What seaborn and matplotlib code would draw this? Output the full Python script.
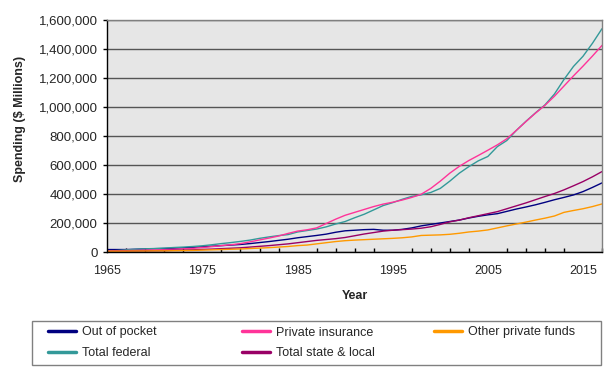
import numpy as np
import pandas as pd
import matplotlib
matplotlib.use("Agg")
import matplotlib.pyplot as plt
import matplotlib.ticker as mticker
from matplotlib.patches import Rectangle
import seaborn as sns

# Spending by source of funds, $ millions (in billions * 1000)
years = list(range(1965, 2018))

out_of_pocket = [19, 19, 19, 21, 23, 25, 26, 28, 31, 34,
                 38, 42, 46, 50, 54,
                 60, 67, 74, 82, 90,
                 100, 108, 116, 125, 138,
                 148, 152, 156, 158, 152,
                 152, 158, 168, 182, 192,
                 202, 212, 222, 236, 248,
                 258, 266, 282, 298, 312,
                 327, 344, 362, 378, 395,
                 418, 447, 478]

private_insurance = [10, 11, 12, 13, 15, 16, 18, 21, 24, 27,
                     33, 39, 46, 52, 60,
                     72, 85, 98, 112, 130,
                     146, 155, 168, 198, 228,
                     255, 275, 295, 315, 332,
                     345, 360, 378, 400, 440,
                     490, 545, 592, 632, 667,
                     703, 740, 782, 840, 900,
                     958, 1012, 1075, 1145, 1215,
                     1282, 1352, 1425]

other_private = [8, 8, 8, 9, 9, 10, 10, 11, 12, 13,
                 15, 17, 19, 21, 23,
                 26, 29, 32, 36, 40,
                 46, 50, 58, 66, 74,
                 80, 84, 87, 90, 93,
                 96, 100, 106, 116, 118,
                 120, 124, 131, 140, 146,
                 154, 168, 182, 195, 208,
                 222, 235, 250, 275, 288,
                 300, 315, 333]

total_federal = [8, 12, 17, 21, 24, 26, 29, 33, 36, 40,
                 45, 52, 60, 67, 75,
                 84, 96, 106, 115, 122,
                 140, 150, 160, 175, 195,
                 212, 238, 262, 292, 322,
                 342, 365, 385, 396, 412,
                 440, 490, 545, 590, 630,
                 660, 728, 770, 840, 902,
                 960, 1015, 1090, 1190, 1280,
                 1350, 1440, 1540]

state_local = [7, 8, 8, 9, 10, 11, 12, 14, 15, 17,
               20, 22, 25, 28, 31,
               36, 41, 46, 52, 58,
               66, 74, 82, 88, 94,
               102, 114, 126, 136, 146,
               152, 156, 160, 166, 176,
               192, 210, 222, 238, 252,
               266, 280, 300, 320, 340,
               362, 384, 405, 430, 458,
               487, 520, 556]

series = {
    "Out of pocket": out_of_pocket,
    "Total federal": total_federal,
    "Private insurance": private_insurance,
    "Total state & local": state_local,
    "Other private funds": other_private,
}
colors = {
    "Out of pocket": "#000080",
    "Total federal": "#339999",
    "Private insurance": "#FF3399",
    "Total state & local": "#990066",
    "Other private funds": "#FF9900",
}
# legend columns as laid out in the reference (row-major, 3 per row)
legend_cols = [["Out of pocket", "Total federal"],
               ["Private insurance", "Total state & local"],
               ["Other private funds"]]

frames = []
for name, vals in series.items():
    frames.append(pd.DataFrame({"Year": years,
                                "Spending": np.array(vals) * 1000,
                                "Source": name}))
df = pd.concat(frames, ignore_index=True)

sns.set_style("white")
plt.rcParams["font.family"] = ["Liberation Sans", "DejaVu Sans"]

W, H = 612, 372
fig, ax = plt.subplots(figsize=(W / 100, H / 100), dpi=100)
fig.subplots_adjust(left=107.3 / W, right=602 / W,
                    top=1 - 20 / H, bottom=1 - 252.3 / H)

ax.set_facecolor("#E6E6E6")
sns.lineplot(data=df, x="Year", y="Spending", hue="Source",
             hue_order=list(series.keys()), palette=colors,
             linewidth=1.0, ax=ax, legend=True)

ax.set_xlim(1965, 2017)
ax.set_ylim(0, 1600000)
ax.set_xticks(range(1965, 2016, 10))
ax.xaxis.set_minor_locator(mticker.FixedLocator(range(1967, 2018, 2)))
ax.yaxis.set_major_locator(mticker.MultipleLocator(200000))
ax.yaxis.set_major_formatter(mticker.FuncFormatter(lambda v, p: f"{int(v):,}"))
ax.grid(axis="y", color="#555555", linewidth=1.0)
ax.set_axisbelow(True)

ax.tick_params(axis="x", which="major", direction="inout", length=7,
               width=1, color="black", labelsize=9, pad=5.5)
ax.tick_params(axis="x", which="minor", direction="in", length=3,
               width=1, color="black", bottom=True)
ax.tick_params(axis="y", which="major", direction="out", length=3,
               width=1, color="black", labelsize=9.5, pad=4, left=True)

for side in ["left", "bottom"]:
    ax.spines[side].set_color("black")
    ax.spines[side].set_linewidth(1.0)
for side in ["top", "right"]:
    ax.spines[side].set_color("#808080")
    ax.spines[side].set_linewidth(1.0)

ax.set_xlabel("Year", fontsize=9, fontweight="bold")
ax.set_ylabel("Spending ($ Millions)", fontsize=9, fontweight="bold")
ax.xaxis.set_label_coords(0.5, -0.162)
ax.yaxis.set_label_coords(-0.165, 0.574)

# legend: one frameless legend per column inside a shared box
handle_map = dict(zip(*ax.get_legend_handles_labels()[::-1]))
ax.get_legend().remove()
col_x = [48, 242, 434]
for x0, names in zip(col_x, legend_cols):
    leg = fig.legend([handle_map[n] for n in names], names,
                     loc="upper left", bbox_to_anchor=(x0 / W, 1 - 326.5 / H),
                     frameon=False, fontsize=9, borderpad=0, borderaxespad=0,
                     handlelength=2.2, handletextpad=0.55, labelspacing=0.68)
    for line in leg.get_lines():
        line.set_linewidth(2.5)
fig.add_artist(Rectangle((32.3 / W, 1 - 365 / H), (601 - 32.3) / W, 44.3 / H,
                         transform=fig.transFigure, fill=False,
                         edgecolor="#808080", linewidth=1.0))

fig.savefig("out.png", dpi=100)
